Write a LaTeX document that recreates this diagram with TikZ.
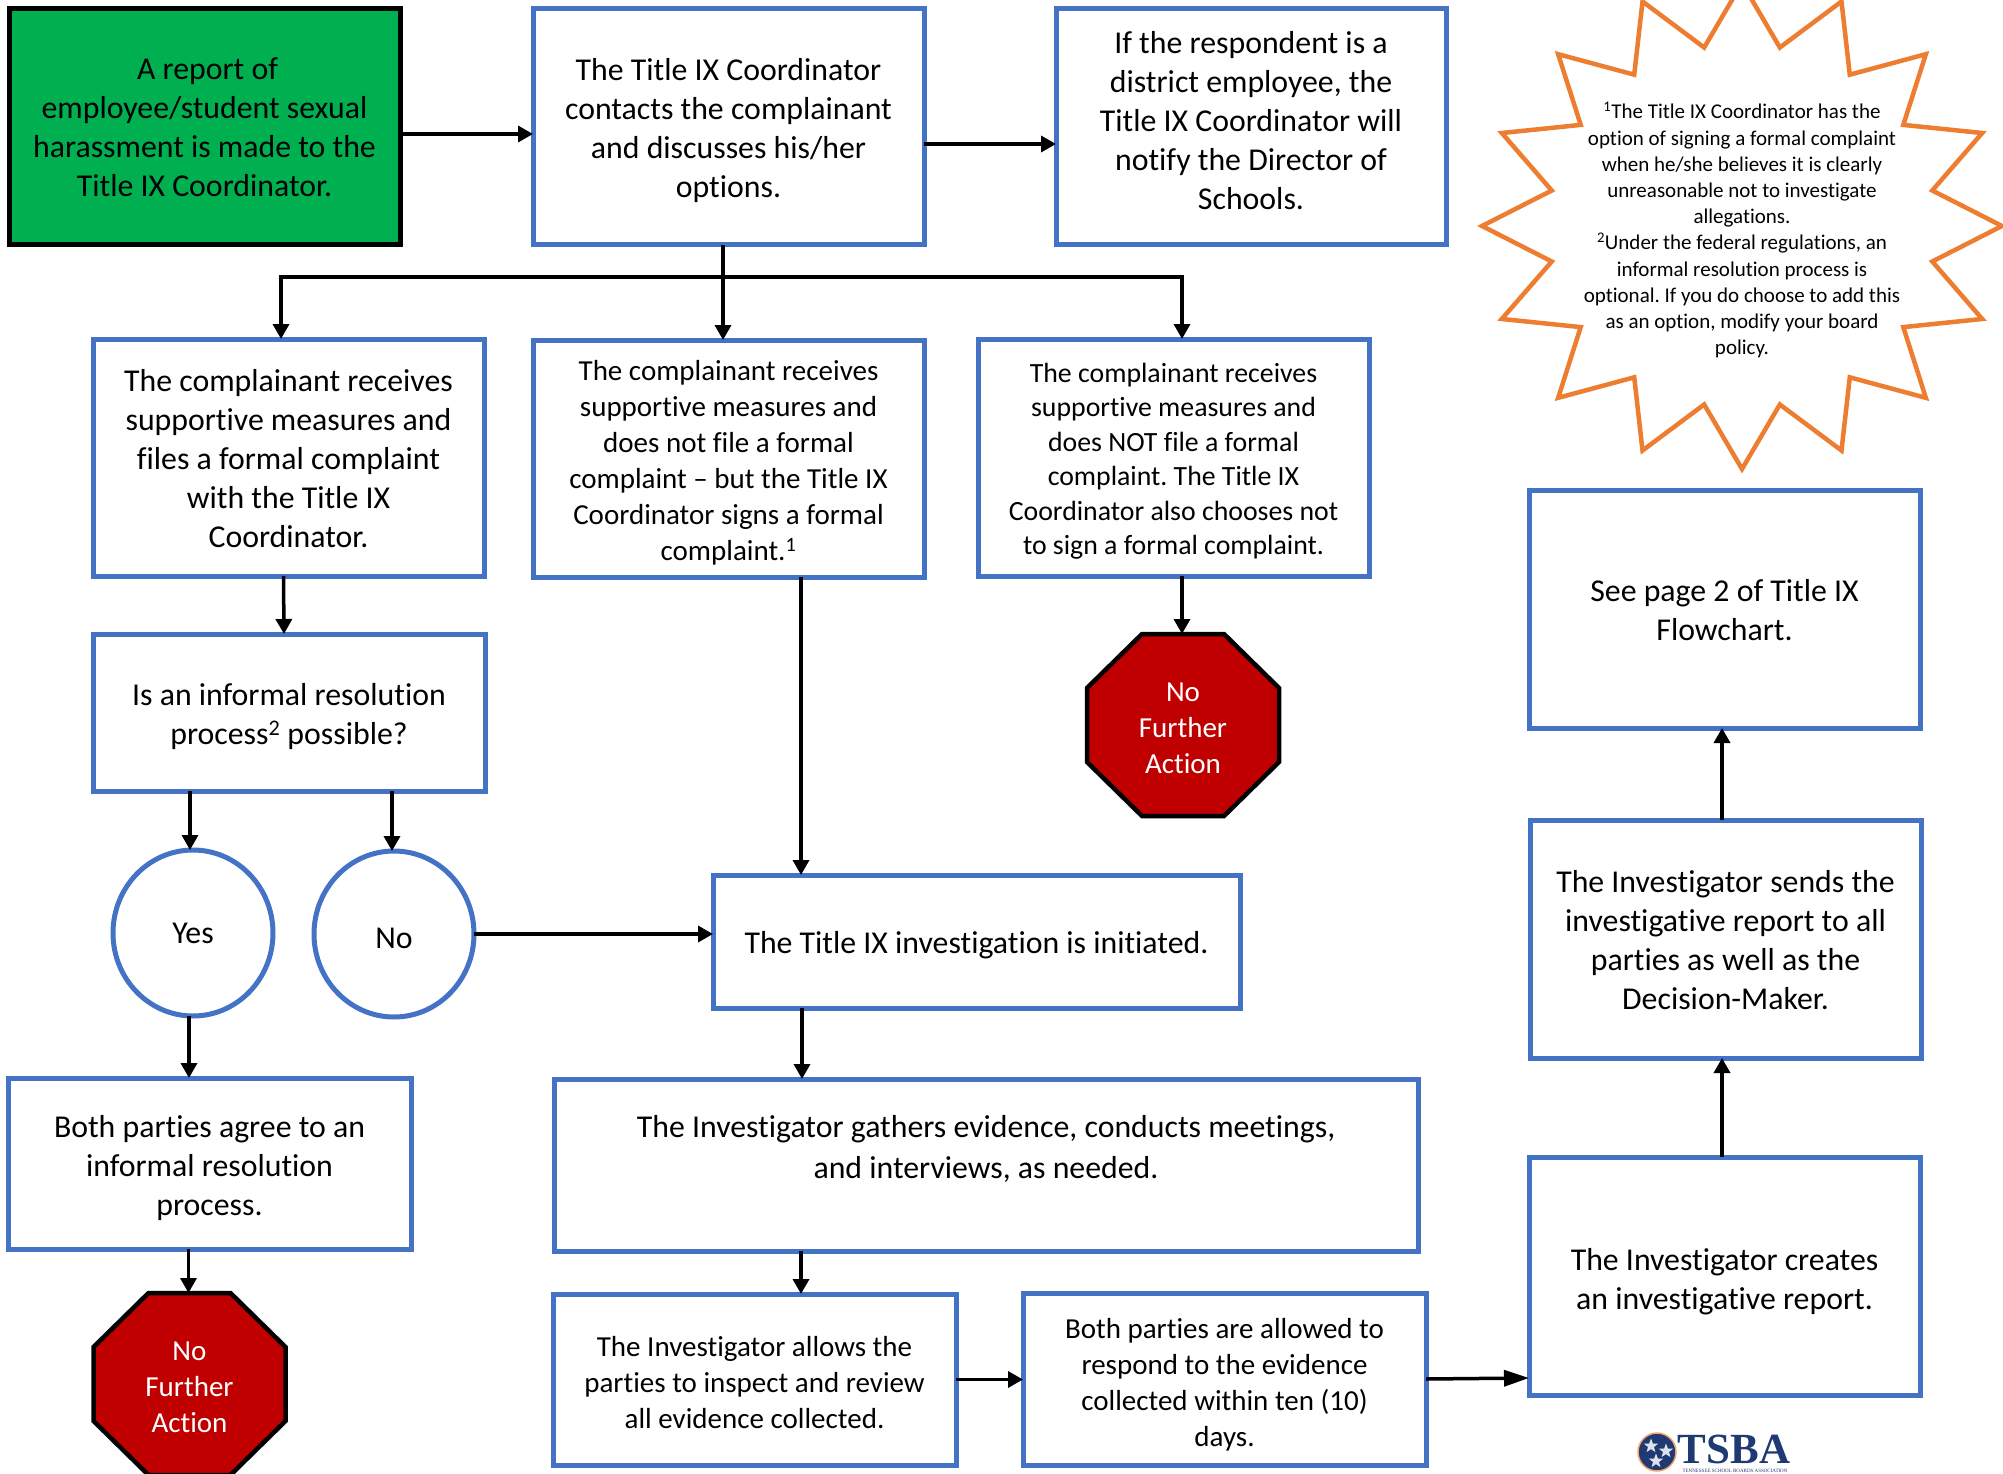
\documentclass[tikz,border=0pt]{standalone}
\usepackage{fontspec}
\setmainfont[Ligatures=NoCommon]{Carlito}
\newfontfamily\logofont{Liberation Serif}
\frenchspacing
\usetikzlibrary{arrows.meta,shapes.geometric}
\newcommand{\bigtext}{\fontsize{31.8}{39}\selectfont}
\newcommand{\midtext}{\fontsize{29}{36}\selectfont}
\newcommand{\droptext}[1]{\rule{0pt}{#1}}
\newcommand{\stopsign}[2]{
    \node[stopframe] (#1) at (#2) {};
    \draw[stopline] ([xshift=55pt]#1.north west) -- ([xshift=-55pt]#1.north east) -- ([yshift=-54pt]#1.north east) -- ([yshift=54pt]#1.south east) -- ([xshift=-55pt]#1.south east) -- ([xshift=55pt]#1.south west) -- ([yshift=54pt]#1.south west) -- ([yshift=-54pt]#1.north west) -- cycle;
    \node[stoplabel] (#1label) at ([yshift=-3pt]#1.center) {No\\Further\\Action};
}
\definecolor{boxblue}{HTML}{4472C4}
\definecolor{stargreen}{HTML}{00B050}
\definecolor{stopred}{HTML}{C00000}
\definecolor{noteorange}{HTML}{ED7D31}
\definecolor{logonavy}{HTML}{1F3A73}

\begin{document}
\begin{tikzpicture}[x=1pt,y=-1pt,
    flowbox/.style={draw=boxblue,line width=5pt,rectangle,inner sep=0pt,outer sep=0pt,align=center,font=\bigtext},
    reportbox/.style={flowbox,draw=black,fill=stargreen},
    roundbox/.style={flowbox,ellipse,minimum width=160pt,minimum height=166pt},
    stopframe/.style={rectangle,inner sep=0pt,outer sep=0pt,minimum width=192pt,minimum height=182pt},
    stopline/.style={draw=black,line width=4.5pt,fill=stopred,line join=miter},
    stoplabel/.style={text=white,inner sep=0pt,align=center,font=\midtext},
    flowarrow/.style={draw=black,line width=3.5pt,-{Triangle[length=15pt,width=16pt]}},
    longarrow/.style={draw=black,line width=3.5pt,-{Triangle[length=25pt,width=16pt]}},
    logostar/.style={star,star points=5,star point ratio=2.4,fill=white!85!logonavy,inner sep=0pt,minimum size=15pt}]
\path[use as bounding box,clip] (0,0) rectangle (2003,1474);

\node[reportbox,minimum width=391pt,minimum height=236pt] (report) at (204.5,127) {\hspace*{6pt}A report of\\employee/student sexual\\harassment is made to the\\Title IX Coordinator.};
\node[flowbox,minimum width=391pt,minimum height=236pt] (contact) at (728.5,127) {\droptext{29pt}The Title IX Coordinator\\contacts the complainant\\and discusses his/her\\options.};
\node[flowbox,minimum width=390pt,minimum height=236pt] (notify) at (1251,127) {If the respondent is a\\district employee, the\\Title IX Coordinator will\\notify the Director of\\Schools.\\[-26pt]\mbox{}};

\node[flowbox,minimum width=391pt,minimum height=237pt] (filed) at (288.5,457.5) {\droptext{24pt}The complainant receives\\supportive measures and\\files a formal complaint\\with the Title IX\\Coordinator.};
\node[flowbox,minimum width=391pt,minimum height=237pt,font=\midtext] (signed) at (728.5,458.5) {\droptext{29pt}The complainant receives\\supportive measures and\\does not file a formal\\complaint -- but the Title IX\\Coordinator signs a formal\\complaint.\textsuperscript{1}};
\node[flowbox,minimum width=391pt,minimum height=237pt,font=\fontsize{27.8}{34.5}\selectfont] (unsigned) at (1173.5,457.5) {\droptext{26.5pt}The complainant receives\\supportive measures and\\does NOT file a formal\\complaint. The Title IX\\Coordinator also chooses not\\to sign a formal complaint.};

\node[flowbox,minimum width=392pt,minimum height=157pt] (informal) at (289,712.5) {\droptext{31pt}Is an informal resolution\\process\textsuperscript{2} possible?};
\stopsign{stopright}{1183,725}
\node[roundbox] (yes) at (193,933) {Yes};
\node[roundbox] (no) at (394,934) {\droptext{30pt}No};
\node[flowbox,minimum width=527pt,minimum height=133pt] (initiated) at (976.5,941.5) {\droptext{29.5pt}The Title IX investigation is initiated.};

\node[flowbox,minimum width=403pt,minimum height=171pt] (agree) at (209.5,1163.5) {\droptext{31pt}Both parties agree to an\\informal resolution\\process.};
\stopsign{stopleft}{189.5,1384}
\node[flowbox,minimum width=864pt,minimum height=172pt,font=\fontsize{31.8}{41}\selectfont] (gathers) at (986,1165) {\droptext{27.5pt}The Investigator gathers evidence, conducts meetings,\\and interviews, as needed.\\\mbox{}};
\node[flowbox,minimum width=403pt,minimum height=171pt,font=\midtext] (inspect) at (754.5,1379.5) {\droptext{26pt}The Investigator allows the\\parties to inspect and review\\all evidence collected.};
\node[flowbox,minimum width=403pt,minimum height=172pt,font=\midtext] (respond) at (1224.5,1379) {\droptext{31pt}Both parties are allowed to\\respond to the evidence\\collected within ten (10)\\days.};

\node[flowbox,minimum width=391pt,minimum height=238pt] (creates) at (1724.5,1276) {\droptext{33pt}The Investigator creates\\an investigative report.};
\node[flowbox,minimum width=391pt,minimum height=238pt] (sends) at (1725.5,939) {\droptext{24pt}The Investigator sends the\\investigative report to all\\parties as well as the\\Decision-Maker.};
\node[flowbox,minimum width=391pt,minimum height=238pt] (seepage) at (1724.5,609) {\droptext{24pt}See page 2 of Title IX\\Flowchart.};

\draw[shift={(1742,226)},draw=noteorange,line width=4.5pt,line join=miter,fill=white] (90:260pt and 243pt)
    \foreach \a in {101.25,123.75,...,438.75} {
        -- (\a:194pt and 182pt) -- (\a+11.25:260pt and 243pt)
    } -- cycle;
\node[align=center,font=\fontsize{21}{26.2}\selectfont] (note) at (1742,230) {\textsuperscript{1}The Title IX Coordinator has the\\option of signing a formal complaint\\when he/she believes it is clearly\\unreasonable not to investigate\\allegations.\\\textsuperscript{2}Under the federal regulations, an\\informal resolution process is\\optional. If you do choose to add this\\as an option, modify your board\\policy.};

\coordinate (branch) at (723,277);
\draw[flowarrow] ([yshift=-7pt]report.east) -- ([yshift=-7pt]contact.west);
\draw[flowarrow] ([yshift=-17pt]contact.east) -- ([yshift=-17pt]notify.west);
\draw[flowarrow] ([xshift=-5.5pt]contact.south) -- ([xshift=-5.5pt]signed.north);
\draw[flowarrow] (branch) -| ([xshift=-7.5pt]filed.north);
\draw[flowarrow] (branch) -| ([xshift=8.5pt]unsigned.north);
\draw[flowarrow] ([xshift=-5pt]filed.south) -- ([xshift=-5pt]informal.north);
\draw[flowarrow] ([xshift=-99pt]informal.south) -- ([xshift=-3pt]yes.north);
\draw[flowarrow] ([xshift=103pt]informal.south) -- ([xshift=-2pt]no.north);
\draw[flowarrow] (no.east) -- ([yshift=7.5pt]initiated.west);
\draw[flowarrow] ([xshift=-4pt]yes.south) -- ([xshift=-20.5pt]agree.north);
\draw[flowarrow] ([xshift=-21pt]agree.south) -- ([xshift=-1pt]stopleft.north);
\draw[flowarrow] ([xshift=72.5pt]signed.south) -- ([xshift=-175.5pt]initiated.north);
\draw[flowarrow] ([xshift=8.5pt]unsigned.south) -- ([xshift=-1pt]stopright.north);
\draw[flowarrow] ([xshift=-174.5pt]initiated.south) -- ([xshift=-184pt]gathers.north);
\draw[flowarrow] ([xshift=-185pt]gathers.south) -- ([xshift=46.5pt]inspect.north);
\draw[flowarrow] (inspect.east) -- ([yshift=-0.5pt]respond.west);
\draw[longarrow] (respond.east) -- ([yshift=-102pt]creates.west);
\draw[flowarrow] ([xshift=-2.5pt]creates.north) -- ([xshift=-3.5pt]sends.south);
\draw[flowarrow] ([xshift=-3.5pt]sends.north) -- ([xshift=-2.5pt]seepage.south);

\node[circle,draw=noteorange!70,fill=logonavy,line width=1.5pt,minimum size=38pt,inner sep=0pt] (seal) at (1657,1452) {};
\node[logostar] (stara) at (1651,1446) {};
\node[logostar] (starb) at (1666,1451) {};
\node[logostar] (starc) at (1656,1461) {};
\node[inner sep=0pt,text=logonavy,font=\logofont\bfseries\fontsize{43}{43}\selectfont] (tsba) at (1734,1449) {TSBA};
\node[inner sep=0pt,text=logonavy,font=\logofont\fontsize{5}{6}\selectfont] (tsbaname) at (1735,1471) {TENNESSEE SCHOOL BOARDS ASSOCIATION};
\end{tikzpicture}
\end{document}
